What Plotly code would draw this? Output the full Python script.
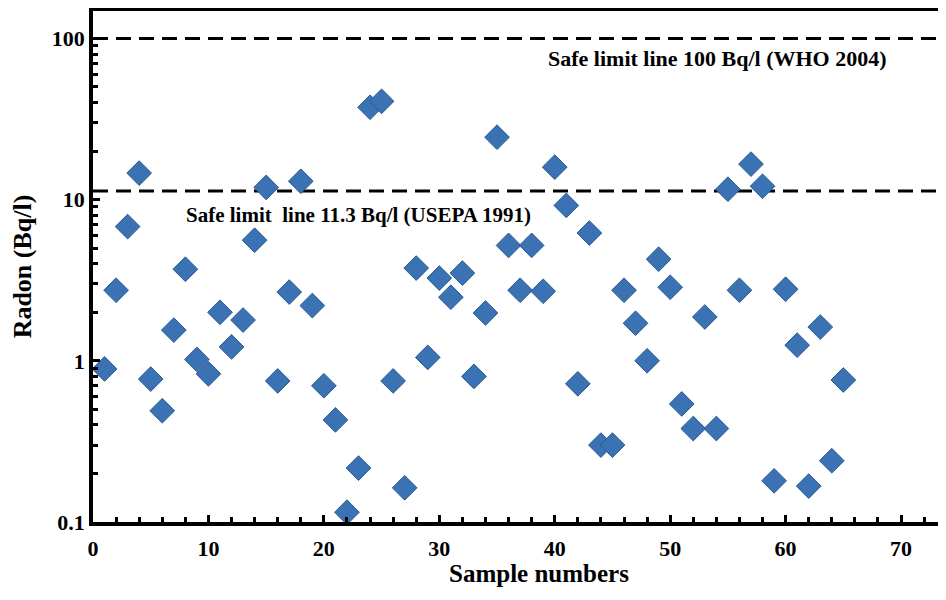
import math
import plotly.graph_objects as go

sample_numbers = list(range(1, 66))
radon_bq_l = [0.89, 2.74, 6.8, 14.6, 0.77, 0.49, 1.55, 3.7, 1.02, 0.83,
              2.0, 1.22, 1.79, 5.6, 11.9, 0.75, 2.67, 13.0, 2.2, 0.70,
              0.43, 0.115, 0.216, 37.4, 40.7, 0.75, 0.163, 3.76, 1.05, 3.26,
              2.48, 3.5, 0.80, 1.98, 24.4, 5.2, 2.74, 5.2, 2.70, 15.9,
              9.2, 0.72, 6.2, 0.30, 0.30, 2.74, 1.71, 1.0, 4.27, 2.86,
              0.54, 0.38, 1.87, 0.38, 11.6, 2.74, 16.6, 12.1, 0.18, 2.78,
              1.25, 0.167, 1.62, 0.24, 0.76]

limit_values = [100, 11.3]
limit_labels = ["Safe limit line 100 Bq/l (WHO 2004)",
                "Safe limit  line 11.3 Bq/l (USEPA 1991)"]
limit_label_x = [54.1, 23.0]
limit_label_y = [75.0, 8.0]
limit_label_size = [22, 21]

x_range = [0, 73.2]
font = "Liberation Serif"

fig = go.Figure()
for v in limit_values:
    fig.add_trace(go.Scatter(x=x_range, y=[v, v], mode="lines",
                             line=dict(color="black", width=3, dash="15px,8px"),
                             showlegend=False, hoverinfo="skip"))

fig.add_trace(go.Scatter(x=sample_numbers, y=radon_bq_l, mode="markers",
                         marker=dict(symbol="diamond", size=19, color="#3b72b3",
                                     line=dict(color="#2a5a93", width=1)),
                         showlegend=False))

for t, lx, ly, fs in zip(limit_labels, limit_label_x, limit_label_y, limit_label_size):
    fig.add_annotation(x=lx, y=math.log10(ly), xref="x", yref="y", text=t,
                       showarrow=False,
                       font=dict(family=font, size=fs, color="black", weight="bold"))

# x-axis title (centred under the full original axis)
fig.add_annotation(x=0.528, y=0, xref="paper", yref="paper", yshift=-51,
                   text="Sample numbers", showarrow=False, yanchor="middle",
                   font=dict(family=font, size=25, color="black", weight="bold"))

fig.update_layout(
    width=930, height=584,
    margin=dict(l=85, r=0, t=3, b=70),
    plot_bgcolor="white", paper_bgcolor="white",
    font=dict(family=font, color="black"),
)
fig.update_xaxes(range=x_range, showgrid=False, zeroline=False,
                 showline=True, linecolor="black", linewidth=3.5, mirror=True,
                 ticks="inside", ticklen=7, tickwidth=3, tickcolor="black",
                 dtick=10, tick0=0, ticklabelstandoff=4,
                 minor=dict(ticks="inside", ticklen=5, tickwidth=3, tickcolor="black", dtick=2),
                 tickfont=dict(family=font, size=22, weight="bold"))
fig.update_yaxes(type="log", range=[-1, 2.17], showgrid=False, zeroline=False,
                 showline=True, linecolor="black", linewidth=3.5,
                 ticks="inside", ticklen=7, tickwidth=3, tickcolor="black",
                 tickvals=[0.1, 1, 10, 100], ticktext=["0.1", "1", "10", "100"],
                 minor=dict(ticks="inside", ticklen=5, tickwidth=3, tickcolor="black",
                            tickvals=[m * 10 ** e for e in (-1, 0, 1) for m in range(2, 10)]),
                 tickfont=dict(family=font, size=22, weight="bold"),
                 title=dict(text="Radon (Bq/l)", standoff=16,
                            font=dict(family=font, size=26, weight="bold")))

fig.write_html("out.html")
